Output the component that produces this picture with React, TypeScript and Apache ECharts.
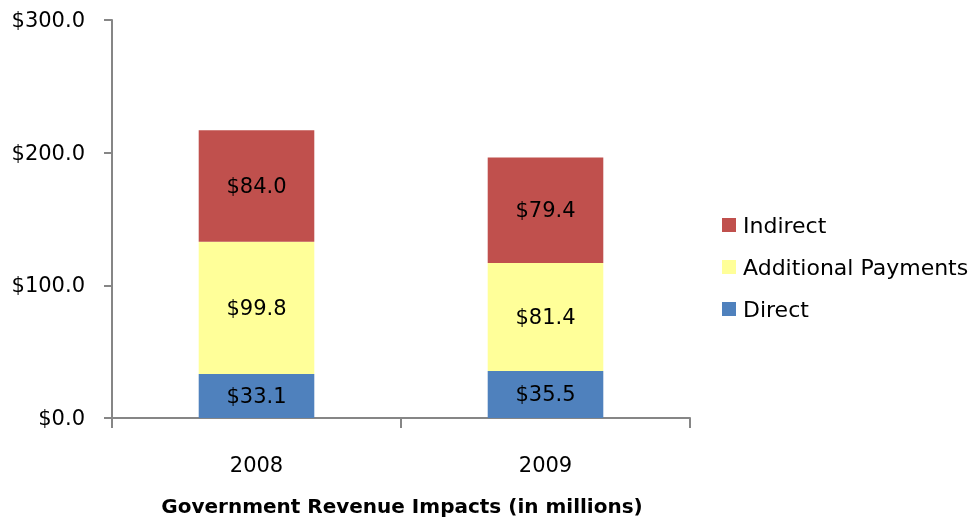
import React, { useEffect, useRef } from "react";
import * as echarts from "echarts";

const categories = ["2008", "2009"];
const directValues = [33.1, 35.5];
const additionalValues = [99.8, 81.4];
const indirectValues = [84.0, 79.4];
const legendOrder = ["Indirect", "Additional Payments", "Direct"];
const yTicks = { min: 0, max: 300, interval: 100 };

const FONT = "DejaVu Sans";

export default function App() {
  const ref = useRef<HTMLDivElement>(null);
  useEffect(() => {
    if (!ref.current) return;
    const chart = echarts.init(ref.current, null, { renderer: "svg" });
    const label = {
      show: true,
      position: "inside",
      color: "#000",
      fontFamily: FONT,
      fontSize: 21,
      formatter: (p: any) => "$" + Number(p.value).toFixed(1),
    };
    const mk = (name: string, data: number[], color: string) => ({
      name,
      type: "bar",
      stack: "total",
      data,
      barWidth: "40%",
      itemStyle: { color },
      label,
    });
    chart.setOption({
      animation: false,
      textStyle: { fontFamily: FONT },
      grid: { left: 112, right: 286, top: 20, bottom: 102 },
      title: {
        text: "Government Revenue Impacts (in millions)",
        left: 397,
        textAlign: "center",
        top: 491,
        textStyle: { fontFamily: FONT, fontSize: 20, fontWeight: "bold", color: "#000" },
      },
      legend: {
        orient: "vertical",
        left: 717,
        top: 209,
        itemWidth: 14,
        itemHeight: 14,
        itemGap: 20,
        icon: "rect",
        data: legendOrder,
        textStyle: { fontFamily: FONT, fontSize: 22, color: "#000", padding: [0, 0, 0, 2] },
      },
      xAxis: {
        type: "category",
        data: categories,
        axisLine: { lineStyle: { color: "#868686", width: 2 } },
        axisTick: { show: true, length: 10, lineStyle: { color: "#868686", width: 2 } },
        axisLabel: { color: "#000", fontFamily: FONT, fontSize: 21, margin: 36 },
      },
      yAxis: {
        type: "value",
        min: yTicks.min,
        max: yTicks.max,
        interval: yTicks.interval,
        splitLine: { show: false },
        axisLine: { show: true, lineStyle: { color: "#868686", width: 2 } },
        axisTick: { show: true, length: 8, lineStyle: { color: "#868686", width: 2 } },
        axisLabel: {
          color: "#000",
          fontFamily: FONT,
          fontSize: 21,
          margin: 27,
          formatter: (v: number) => "$" + v.toFixed(1),
        },
      },
      series: [
        mk("Direct", directValues, "#4F81BD"),
        mk("Additional Payments", additionalValues, "#FFFF99"),
        mk("Indirect", indirectValues, "#C0504D"),
      ],
    });
    return () => chart.dispose();
  }, []);
  return (
    <div
      ref={ref}
      style={{ position: "fixed", left: 0, top: 0, width: 976, height: 520 }}
    />
  );
}
